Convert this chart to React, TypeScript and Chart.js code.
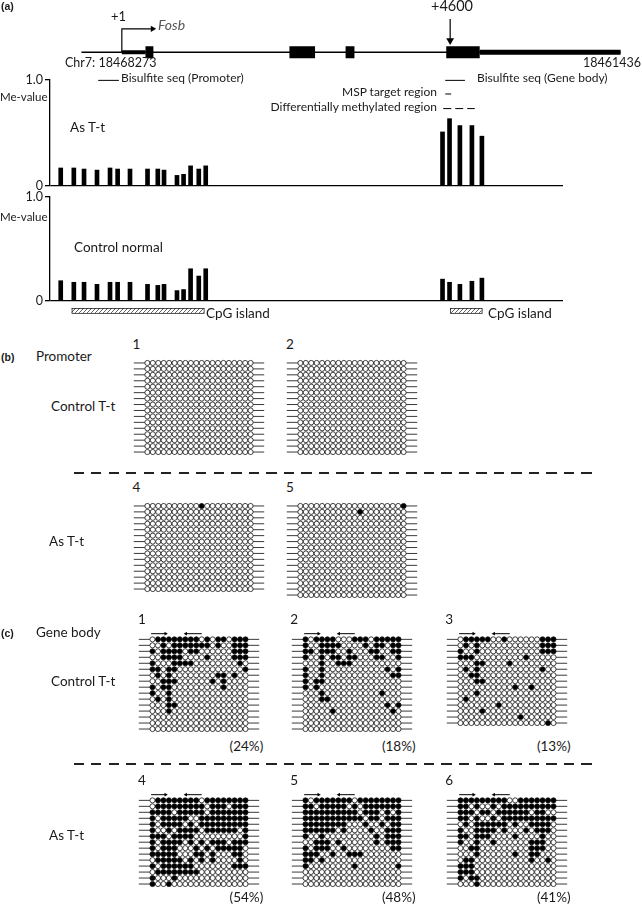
import React, { useEffect, useRef } from 'react';
import { Chart, registerables } from 'chart.js';
Chart.register(...registerables);

// ---------------- DATA ----------------
// CpG site positions (bp relative to TSS +1)
const promoterCpGs = [-805, -624, -483, -304, -124, -19, 152, 394, 536, 622, 801, 892, 989, 1102, 1198];
const bodyCpGs = [4469, 4566, 4709, 4875, 5013];
// Me-values
const asTtPromoter = [0.17, 0.17, 0.16, 0.15, 0.17, 0.16, 0.16, 0.16, 0.16, 0.15, 0.10, 0.11, 0.19, 0.16, 0.19];
const asTtBody = [0.51, 0.635, 0.57, 0.57, 0.47];
const ctlPromoter = [0.195, 0.18, 0.18, 0.16, 0.18, 0.18, 0.18, 0.16, 0.15, 0.16, 0.10, 0.11, 0.31, 0.24, 0.31];
const ctlBody = [0.21, 0.18, 0.16, 0.19, 0.22];
const yTicks = [0, 1];
// Gene map (bp relative to TSS)
const geneSpan = [-566, 6988];
const utr5 = [0, 331];
const utr3 = [5014, 6988];
const exonStarts = [331, 2348, 3135, 4545];
const exonEnds = [442, 2707, 3259, 5014];
const tssArrowEnd = 456;
const markedSite = 4600;
const bisPromoter = [-331, -41];
const bisBody = [4531, 4807];
const mspRegion = [4531, 4614];
const dmrRegion = [4503, 4945];
const cpgIslandStarts = [-704, 4599];
const cpgIslandEnds = [1146, 5041];
// Primer positions (CpG column units)
const fwdPrimer = [0.75, 3.4];
const revPrimer = [7.1, 10];

// Bisulfite clones (1 = methylated, 0 = unmethylated)
const b1 = [
  '00000000000000000000', '00000000000000000000', '00000000000000000000', '00000000000000000000',
  '00000000000000000000', '00000000000000000000', '00000000000000000000', '00000000000000000000',
  '00000000000000000000', '00000000000000000000', '00000000000000000000', '00000000000000000000',
  '00000000000000000000', '00000000000000000000', '00000000000000000000', '00000000000000000000',
];
const b2 = [
  '00000000000000000000', '00000000000000000000', '00000000000000000000', '00000000000000000000',
  '00000000000000000000', '00000000000000000000', '00000000000000000000', '00000000000000000000',
  '00000000000000000000', '00000000000000000000', '00000000000000000000', '00000000000000000000',
  '00000000000000000000', '00000000000000000000', '00000000000000000000', '00000000000000000000',
];
const b4 = [
  '00000000001000000000', '00000000000000000000', '00000000000000000000', '00000000000000000000',
  '00000000000000000000', '00000000000000000000', '00000000000000000000', '00000000000000000000',
  '00000000000000000000', '00000000000000000000', '00000000000000000000', '00000000000000000000',
  '00000000000000000000', '00000000000000000000', '00000000000000000000',
];
const b5 = [
  '00000000000000000001', '00000000000100000000', '00000000000000000000', '00000000000000000000',
  '00000000000000000000', '00000000000000000000', '00000000000000000000', '00000000000000000000',
  '00000000000000000000', '00000000000000000000', '00000000000000000000', '00000000000000000000',
  '00000000000000000000', '00000000000000000000', '00000000000000000000', '00000000000000000000',
];
const c1 = [
  '011111111010110111', '001011111110100111', '101111011000000111', '001111000010000111',
  '100011110000000010', '110110000000000001', '010100000000110100', '001110000001010000',
  '101100000000010000', '100100000000000000', '010100000000000000', '000110000000000000',
  '000100000000000000', '000000000000000000', '000000000000000000', '000000000000000000',
];
const c2 = [
  '101111000111011111', '100111100001011011', '110111001000110011', '100101101100011001',
  '000100111000000000', '100100000000000101', '100100000000000011', '101100000000000000',
  '101000000000000000', '000100000000001000', '000110000000000000', '000000000000000101',
  '000001000000000010', '000000000000000000', '000000000000000000', '000000000000000000',
];
const c3 = [
  '011111001000000111', '010100000000000111', '100100000000000111', '111000000000100000',
  '000110000100000000', '010100000000000100', '001100000000000000', '000110000000000000',
  '000000000010010000', '000100000000000000', '010000000000000000', '000000010000000000',
  '000010000000000000', '000000000001000000', '000000000000000010',
];
const c4 = [
  '011111111011111111', '011111111101110111', '111101111101111111', '101111100111111111',
  '101111010111111111', '100101111011111101', '111011110000000001', '101111010101110111',
  '101110001010111110', '111110001101000110', '011111010101000010', '101111110000000111',
  '011111111000000000', '100010000000000000', '100100000000000000',
];
const c5 = [
  '101111111011111111', '110111110101111111', '111111111101110101', '111111111110110111',
  '111111110001001011', '111111010000100111', '100100000000010111', '001110100000010111',
  '101110010000000011', '111001001110000000', '110100000000000000', '100000000100000001',
  '000000000000000000', '000000000000000000', '000000000000000000',
];
const c6 = [
  '111111111001111111', '110100101111111111', '111011011111101100', '110100101111111111',
  '010111111010011110', '100111101000101110', '110111000010000100', '100100100000011100',
  '001100000000011100', '000100000010011000', '011000000000010010', '111000000000000000',
  '111000000000000000', '101100000000000000', '000100000000000000',
];

// ---------------- LAYOUT ----------------
const W = 642;
const H = 906;
const FONT = 'Lato, "Open Sans", sans-serif';
const TXT = '#1a1a1a';
const TSS_PX = 119;
const BP_PER_PX = 4600 / (452 - 119);
const pxToBp = (px: number) => (px - TSS_PX) * BP_PER_PX;
const AXIS_LEFT = 50;
const AXIS_RIGHT = 563;

const common: any = {
  responsive: false,
  animation: false,
  devicePixelRatio: 1,
  events: [],
  plugins: { legend: { display: false }, tooltip: { enabled: false } },
};

function Plot({ left, top, width, height, config }: any) {
  const ref = useRef<HTMLCanvasElement>(null);
  useEffect(() => {
    const chart = new Chart(ref.current as HTMLCanvasElement, config);
    return () => chart.destroy();
  }, []);
  return (
    <canvas
      ref={ref}
      width={Math.round(width)}
      height={Math.round(height)}
      style={{ position: 'absolute', left, top, width: Math.round(width), height: Math.round(height) }}
    />
  );
}

// ---------- Gene map ----------
const Y_GENE = 49;
const seg = (a: number, b: number, y: number, w: number, extra: any = {}) => ({
  data: [{ x: a, y }, { x: b, y }],
  showLine: true,
  borderColor: '#000',
  borderWidth: w,
  borderCapStyle: 'butt',
  pointRadius: 0,
  fill: false,
  ...extra,
});

function makeHatch() {
  const c = document.createElement('canvas');
  c.width = 4;
  c.height = 4;
  const g = c.getContext('2d') as CanvasRenderingContext2D;
  g.strokeStyle = '#333';
  g.lineWidth = 0.8;
  g.beginPath();
  g.moveTo(0, 4);
  g.lineTo(4, 0);
  g.stroke();
  return g.createPattern(c, 'repeat');
}

const cpgPlugin = {
  id: 'cpgBoxes',
  afterDatasetsDraw(chart: any) {
    const { ctx, scales } = chart;
    const x = scales.x;
    const y = scales.y;
    const pat = makeHatch();
    ctx.save();
    for (let i = 0; i < cpgIslandStarts.length; i++) {
      const x1 = x.getPixelForValue(cpgIslandStarts[i]);
      const x2 = x.getPixelForValue(cpgIslandEnds[i]);
      const y1 = y.getPixelForValue(312);
      const y2 = y.getPixelForValue(317);
      if (pat) ctx.fillStyle = pat;
      ctx.fillRect(x1, y1, x2 - x1, y2 - y1);
      ctx.strokeStyle = '#222';
      ctx.lineWidth = 0.8;
      ctx.strokeRect(x1 + 0.5, y1 + 0.5, x2 - x1, y2 - y1);
    }
    ctx.restore();
  },
};

function mapConfig() {
  const datasets: any[] = [
    seg(geneSpan[0], geneSpan[1], Y_GENE, 1.5),
    seg(utr5[0], utr5[1], Y_GENE, 4),
    seg(utr3[0], utr3[1], Y_GENE, 5),
    ...exonStarts.map((s, i) => seg(s, exonEnds[i], Y_GENE, 12)),
    {
      data: [{ x: 0, y: Y_GENE }, { x: 0, y: 25 }, { x: tssArrowEnd - 40, y: 25 }],
      showLine: true, borderColor: '#000', borderWidth: 1.2, pointRadius: 0, fill: false,
    },
    {
      data: [{ x: tssArrowEnd - 25, y: 25 }],
      pointStyle: 'triangle', rotation: 90, pointRadius: 3.6, backgroundColor: '#000', borderColor: '#000', borderWidth: 0,
    },
    seg(markedSite, markedSite, 0, 1.2, { data: [{ x: markedSite, y: 15 }, { x: markedSite, y: 36 }] }),
    {
      data: [{ x: markedSite, y: 37 }],
      pointStyle: 'triangle', rotation: 180, pointRadius: 4.5, backgroundColor: '#000', borderColor: '#000', borderWidth: 0,
    },
    seg(bisPromoter[0], bisPromoter[1], 78, 1),
    seg(bisBody[0], bisBody[1], 78, 1),
    seg(mspRegion[0], mspRegion[1], 92, 1),
    seg(dmrRegion[0], dmrRegion[1], 107, 1, { borderDash: [8, 4] }),
  ];
  return {
    type: 'scatter',
    data: { datasets },
    plugins: [cpgPlugin],
    options: {
      ...common,
      layout: { padding: 0 },
      scales: {
        x: { type: 'linear', display: false, min: pxToBp(0), max: pxToBp(W) },
        y: { type: 'linear', display: false, min: 0, max: 330, reverse: true },
      },
    },
  };
}

// ---------- Bar charts ----------
function barConfig(promVals: number[], bodyVals: number[]) {
  const data = [
    ...promoterCpGs.map((x, i) => ({ x, y: promVals[i] })),
    ...bodyCpGs.map((x, i) => ({ x, y: bodyVals[i] })),
  ];
  return {
    type: 'bar',
    data: { datasets: [{ data, backgroundColor: '#000', borderWidth: 0, barThickness: 4 }] },
    options: {
      ...common,
      layout: { padding: { top: 10, bottom: 10, left: 0, right: 7 } },
      scales: {
        x: { type: 'linear', display: false, offset: false, min: pxToBp(AXIS_LEFT), max: pxToBp(AXIS_RIGHT) },
        y: {
          type: 'linear',
          min: 0,
          max: 1,
          afterFit: (s: any) => { s.width = AXIS_LEFT; },
          afterBuildTicks: (s: any) => { s.ticks = yTicks.map((v) => ({ value: v })); },
          ticks: {
            callback: (v: number) => (v === 1 ? '1.0' : '0'),
            color: TXT,
            font: { family: FONT, size: 12.5 },
            padding: 2,
          },
          grid: {
            color: (c: any) => (c.tick && c.tick.value === 0 ? '#000' : 'rgba(0,0,0,0)'),
            tickColor: '#000',
            tickLength: 5,
            lineWidth: 1.3,
          },
          border: { display: true, color: '#000', width: 1.3 },
        },
      },
    },
  };
}

// ---------- Methylation grids ----------
type GridSpec = {
  rows: string[]; x0: number; y0: number; px: number; py: number;
  label: string; pct?: string; primers?: boolean;
};

const PX_B = 5.82;
const PX_C = 5.9;
const PY = 6.55;
const grids: GridSpec[] = [
  { rows: b1, x0: 143.5, y0: 359, px: PX_B, py: PY, label: '1' },
  { rows: b2, x0: 297, y0: 359, px: PX_B, py: PY, label: '2' },
  { rows: b4, x0: 143.5, y0: 502, px: PX_B, py: PY, label: '4' },
  { rows: b5, x0: 297, y0: 502, px: PX_B, py: PY, label: '5' },
  { rows: c1, x0: 149, y0: 635.3, px: PX_C, py: PY, label: '1', pct: '(24%)', primers: true },
  { rows: c2, x0: 301.3, y0: 635.3, px: PX_C, py: PY, label: '2', pct: '(18%)', primers: true },
  { rows: c3, x0: 456.3, y0: 635.3, px: PX_C, py: PY, label: '3', pct: '(13%)', primers: true },
  { rows: c4, x0: 149, y0: 796.5, px: PX_C, py: PY, label: '4', pct: '(54%)', primers: true },
  { rows: c5, x0: 301.3, y0: 796.5, px: PX_C, py: PY, label: '5', pct: '(48%)', primers: true },
  { rows: c6, x0: 456.3, y0: 796.5, px: PX_C, py: PY, label: '6', pct: '(41%)', primers: true },
];

const EXT = 2.5; // line extension in columns
function gridGeom(g: GridSpec) {
  const ncols = g.rows[0].length;
  const nrows = g.rows.length;
  const topRows = g.primers ? 1.6 : 0.7;
  const left = g.x0 - EXT * g.px;
  const width = (ncols - 1 + 2 * EXT) * g.px;
  const top = g.y0 - topRows * g.py;
  const height = (nrows - 1 + topRows + 0.7) * g.py;
  return { ncols, nrows, topRows, left, width, top, height };
}

function gridConfig(g: GridSpec) {
  const { ncols, nrows, topRows } = gridGeom(g);
  const pts: any[] = [];
  g.rows.forEach((r, i) => {
    for (let j = 0; j < r.length; j++) pts.push({ x: j + 1, y: i + 1, m: r[j] === '1' });
  });
  const datasets: any[] = g.rows.map((_, i) => ({
    data: [{ x: 1 - EXT, y: i + 1 }, { x: ncols + EXT, y: i + 1 }],
    showLine: true, borderColor: '#3a3a3a', borderWidth: 1, pointRadius: 0, order: 5,
  }));
  datasets.push({
    data: pts,
    pointRadius: 2.55,
    pointBorderWidth: 0.8,
    pointBorderColor: '#111',
    pointBackgroundColor: (c: any) => (c.raw && c.raw.m ? '#000' : '#fff'),
    order: 1,
  });
  if (g.primers) {
    const yA = 0.05;
    datasets.push({
      data: [{ x: fwdPrimer[0], y: yA }, { x: fwdPrimer[1], y: yA }],
      showLine: true, borderColor: '#000', borderWidth: 1, pointRadius: 0, order: 2,
    });
    datasets.push({
      data: [{ x: fwdPrimer[1], y: yA }],
      pointStyle: 'triangle', rotation: 90, pointRadius: 2.2, backgroundColor: '#000', borderWidth: 0, order: 2,
    });
    datasets.push({
      data: [{ x: revPrimer[0], y: yA }, { x: revPrimer[1], y: yA }],
      showLine: true, borderColor: '#000', borderWidth: 1, pointRadius: 0, order: 2,
    });
    datasets.push({
      data: [{ x: revPrimer[0], y: yA }],
      pointStyle: 'triangle', rotation: -90, pointRadius: 2.2, backgroundColor: '#000', borderWidth: 0, order: 2,
    });
  }
  return {
    type: 'scatter',
    data: { datasets },
    options: {
      ...common,
      layout: { padding: 0 },
      clip: false,
      scales: {
        x: { type: 'linear', display: false, min: 1 - EXT, max: ncols + EXT },
        y: { type: 'linear', display: false, min: 1 - topRows, max: nrows + 0.7, reverse: true },
      },
    },
  };
}

// ---------- Text ----------
type T = { t: string; x: number; y: number; s: number; a?: 'l' | 'r' | 'c'; i?: boolean; b?: boolean; c?: string; f?: string };
const PF = 'Arial, "Liberation Sans", sans-serif';
const texts: T[] = [
  { t: '(a)', x: 1, y: 6, s: 10.5, b: true, f: PF },
  { t: '+4600', x: 452, y: 6, s: 14.5, a: 'c' },
  { t: '+1', x: 111, y: 16, s: 13 },
  { t: 'Fosb', x: 158, y: 25, s: 14, i: true, c: '#555' },
  { t: 'Chr7: 18468273', x: 65, y: 63, s: 12.5 },
  { t: '18461436', x: 641, y: 63, s: 12.5, a: 'r' },
  { t: 'Bisulfite seq (Promoter)', x: 121, y: 78, s: 12 },
  { t: 'Bisulfite seq (Gene body)', x: 477, y: 78, s: 12 },
  { t: 'MSP target region', x: 437, y: 92, s: 12, a: 'r' },
  { t: 'Differentially methylated region', x: 437, y: 107, s: 12, a: 'r' },
  { t: 'Me-value', x: 0, y: 97, s: 11.5 },
  { t: 'As T-t', x: 70, y: 128, s: 13.5 },
  { t: 'Me-value', x: 0, y: 217, s: 11.5 },
  { t: 'Control normal', x: 74, y: 248, s: 13.5 },
  { t: 'CpG island', x: 206, y: 314, s: 13.5 },
  { t: 'CpG island', x: 488, y: 314, s: 13.5 },
  { t: '(b)', x: 1, y: 357, s: 10.5, b: true, f: PF },
  { t: 'Promoter', x: 36, y: 357, s: 13.5 },
  { t: 'Control T-t', x: 51, y: 407, s: 13.5 },
  { t: 'As T-t', x: 49, y: 542, s: 13.5 },
  { t: '(c)', x: 1, y: 633, s: 10.5, b: true, f: PF },
  { t: 'Gene body', x: 36, y: 633, s: 13.5 },
  { t: 'Control T-t', x: 51, y: 682, s: 13.5 },
  { t: 'As T-t', x: 49, y: 836, s: 13.5 },
];

function Label({ d }: { d: T }) {
  const tx = d.a === 'r' ? 'translate(-100%, -50%)' : d.a === 'c' ? 'translate(-50%, -50%)' : 'translate(0, -50%)';
  return (
    <span
      style={{
        position: 'absolute', left: d.x, top: d.y, transform: tx, whiteSpace: 'nowrap',
        fontFamily: d.f || FONT, fontSize: d.s, lineHeight: 1, color: d.c || TXT,
        fontStyle: d.i ? 'italic' : 'normal', fontWeight: d.b ? 700 : 400,
      }}
    >
      {d.t}
    </span>
  );
}

function Dashed({ y }: { y: number }) {
  return (
    <div
      style={{
        position: 'absolute', left: 74, top: y, width: 525, height: 1.5,
        background: 'repeating-linear-gradient(to right, #222 0px, #222 10px, transparent 10px, transparent 17.5px)',
      }}
    />
  );
}

export default function App() {
  return (
    <div style={{ position: 'absolute', left: 0, top: 0, width: W, height: H, background: '#fff', overflow: 'hidden' }}>
      <Plot left={0} top={0} width={W} height={330} config={mapConfig()} />
      <Plot left={0} top={70} width={AXIS_RIGHT + 7} height={126} config={barConfig(asTtPromoter, asTtBody)} />
      <Plot left={0} top={187} width={AXIS_RIGHT + 7} height={124} config={barConfig(ctlPromoter, ctlBody)} />
      {grids.map((g, k) => {
        const gg = gridGeom(g);
        return (
          <React.Fragment key={k}>
            <Plot left={gg.left} top={gg.top} width={gg.width} height={gg.height} config={gridConfig(g)} />
            <Label d={{ t: g.label, x: g.x0 - 11, y: g.y0 - (g.primers ? 15.5 : 14), s: 13.5 }} />
            {g.pct ? (
              <Label d={{ t: g.pct, x: g.x0 + (g.rows[0].length - 1) * g.px + 14, y: g.y0 + (k >= 7 ? 101.5 : 111.7), s: 13.5, a: 'r' }} />
            ) : null}
          </React.Fragment>
        );
      })}
      <Dashed y={472} />
      <Dashed y={763} />
      {texts.map((d, i) => <Label key={i} d={d} />)}
    </div>
  );
}
